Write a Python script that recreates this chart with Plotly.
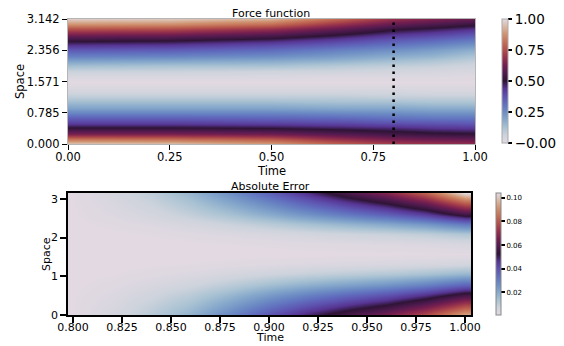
import plotly.graph_objects as go

# ---------------- data ----------------
# Force function: columns at these times, rows at these space points
force_time = [0.0, 0.25, 0.5, 0.65, 0.8, 0.9, 1.0]
force_space = [0.000, 0.131, 0.262, 0.393, 0.524, 0.654, 0.785, 0.916, 1.047, 1.178,
               1.309, 1.440, 1.571, 1.702, 1.833, 1.963, 2.094, 2.225, 2.356, 2.487,
               2.618, 2.749, 2.880, 3.011, 3.142]
force_t000 = [0.97, 0.82, 0.64, 0.51, 0.42, 0.35, 0.27, 0.20, 0.14, 0.09, 0.05, 0.02, 0.00,
              0.03, 0.07, 0.13, 0.20, 0.28, 0.36, 0.44, 0.52, 0.62, 0.75, 0.88, 0.97]
force_t025 = [0.96, 0.81, 0.64, 0.51, 0.42, 0.35, 0.27, 0.20, 0.14, 0.09, 0.05, 0.02, 0.00,
              0.03, 0.07, 0.12, 0.19, 0.27, 0.35, 0.43, 0.51, 0.61, 0.74, 0.87, 0.96]
force_t050 = [0.90, 0.77, 0.62, 0.50, 0.41, 0.34, 0.27, 0.20, 0.14, 0.09, 0.05, 0.02, 0.00,
              0.03, 0.06, 0.12, 0.18, 0.25, 0.32, 0.39, 0.47, 0.56, 0.68, 0.81, 0.92]
force_t065 = [0.80, 0.69, 0.58, 0.48, 0.40, 0.33, 0.26, 0.19, 0.13, 0.09, 0.05, 0.02, 0.00,
              0.02, 0.06, 0.10, 0.16, 0.22, 0.28, 0.35, 0.42, 0.50, 0.60, 0.70, 0.80]
force_t080 = [0.72, 0.63, 0.54, 0.46, 0.38, 0.31, 0.25, 0.19, 0.13, 0.08, 0.05, 0.02, 0.00,
              0.02, 0.05, 0.08, 0.13, 0.18, 0.24, 0.30, 0.36, 0.43, 0.51, 0.60, 0.68]
force_t090 = [0.70, 0.61, 0.52, 0.44, 0.37, 0.30, 0.24, 0.18, 0.12, 0.08, 0.04, 0.02, 0.00,
              0.02, 0.04, 0.07, 0.11, 0.16, 0.21, 0.27, 0.33, 0.40, 0.48, 0.56, 0.64]
force_t100 = [0.68, 0.60, 0.51, 0.43, 0.36, 0.30, 0.24, 0.18, 0.12, 0.08, 0.04, 0.02, 0.00,
              0.01, 0.03, 0.05, 0.08, 0.12, 0.17, 0.23, 0.29, 0.36, 0.44, 0.52, 0.60]
force_columns = [force_t000, force_t025, force_t050, force_t065, force_t080, force_t090, force_t100]

marker_time = 0.8

force_yticks = [0.0, 0.785, 1.571, 2.356, 3.142]
force_yticklabels = ["0.000", "0.785", "1.571", "2.356", "3.142"]
force_xticks = [0.0, 0.25, 0.5, 0.75, 1.0]
force_xticklabels = ["0.00", "0.25", "0.50", "0.75", "1.00"]
force_cbticks = [0.0, 0.25, 0.5, 0.75, 1.0]
force_cblabels = ["\u22120.00", "0.25", "0.50", "0.75", "1.00"]

# Absolute error: columns at these times, rows at these space points
err_time = [0.80, 0.82, 0.84, 0.86, 0.88, 0.90, 0.92, 0.94, 0.96, 0.98, 1.00]
err_space = [0.000, 0.262, 0.524, 0.785, 1.047, 1.309, 1.571, 1.833, 2.094, 2.356, 2.618, 2.880, 3.142]
err_t080 = [0.0010, 0.0009, 0.0008, 0.0006, 0.0004, 0.0003, 0.0002, 0.0003, 0.0004, 0.0006, 0.0008, 0.0009, 0.0010]
err_t082 = [0.0050, 0.0040, 0.0030, 0.0019, 0.0009, 0.0003, 0.0001, 0.0002, 0.0006, 0.0015, 0.0028, 0.0039, 0.0050]
err_t084 = [0.0110, 0.0088, 0.0066, 0.0042, 0.0020, 0.0007, 0.0001, 0.0004, 0.0012, 0.0030, 0.0055, 0.0078, 0.0100]
err_t086 = [0.0180, 0.0144, 0.0108, 0.0068, 0.0032, 0.0011, 0.0002, 0.0007, 0.0020, 0.0051, 0.0094, 0.0133, 0.0170]
err_t088 = [0.0280, 0.0224, 0.0168, 0.0106, 0.0050, 0.0017, 0.0003, 0.0010, 0.0031, 0.0078, 0.0143, 0.0203, 0.0260]
err_t090 = [0.0390, 0.0312, 0.0234, 0.0148, 0.0070, 0.0023, 0.0004, 0.0014, 0.0043, 0.0108, 0.0198, 0.0281, 0.0360]
err_t092 = [0.0490, 0.0392, 0.0294, 0.0186, 0.0088, 0.0029, 0.0005, 0.0019, 0.0056, 0.0141, 0.0259, 0.0367, 0.0470]
err_t094 = [0.0580, 0.0464, 0.0348, 0.0220, 0.0104, 0.0035, 0.0006, 0.0023, 0.0070, 0.0174, 0.0319, 0.0452, 0.0580]
err_t096 = [0.0660, 0.0528, 0.0396, 0.0251, 0.0119, 0.0040, 0.0007, 0.0027, 0.0082, 0.0204, 0.0374, 0.0530, 0.0680]
err_t098 = [0.0780, 0.0624, 0.0468, 0.0296, 0.0140, 0.0047, 0.0008, 0.0033, 0.0098, 0.0246, 0.0451, 0.0640, 0.0820]
err_t100 = [0.0950, 0.0760, 0.0570, 0.0361, 0.0171, 0.0057, 0.0010, 0.0042, 0.0125, 0.0312, 0.0572, 0.0811, 0.1040]
err_columns = [err_t080, err_t082, err_t084, err_t086, err_t088, err_t090,
               err_t092, err_t094, err_t096, err_t098, err_t100]

err_xticks = [0.800, 0.825, 0.850, 0.875, 0.900, 0.925, 0.950, 0.975, 1.000]
err_xticklabels = ["0.800", "0.825", "0.850", "0.875", "0.900", "0.925", "0.950", "0.975", "1.000"]
err_yticks = [0, 1, 2, 3]
err_cbticks = [0.02, 0.04, 0.06, 0.08, 0.10]
err_cblabels = ["0.02", "0.04", "0.06", "0.08", "0.10"]

# ---------------- styling ----------------
twilight = [
    [0.0000, "#e2d9e2"], [0.0625, "#cdd3dc"], [0.1250, "#a9c2d3"], [0.1875, "#86a8cb"],
    [0.2500, "#6d8dc4"], [0.3125, "#6170bf"], [0.3750, "#5e53b0"], [0.4375, "#573593"],
    [0.5000, "#2f1436"], [0.5625, "#4e1a4e"], [0.6250, "#731e50"], [0.6875, "#96314c"],
    [0.7500, "#b24f4b"], [0.8125, "#c46f57"], [0.8750, "#cf916f"], [0.9375, "#d9b8a4"],
    [1.0000, "#e2d9e2"],
]
FONT = "DejaVu Sans"
W, H = 564, 346


def transpose(cols):
    return [list(r) for r in zip(*cols)]


def px(x):
    return x / W


def py(y):
    return (H - y) / H


fig = go.Figure()

fig.add_trace(go.Heatmap(
    x=force_time, y=force_space, z=transpose(force_columns),
    colorscale=twilight, zmin=0, zmax=1, zsmooth="best",
    xaxis="x", yaxis="y",
    colorbar=dict(
        x=px(502), xanchor="left", y=py(19), yanchor="top", xpad=0, ypad=0,
        len=124 / H, lenmode="fraction", thickness=6,
        outlinewidth=1, outlinecolor="#aaaaaa",
        tickvals=force_cbticks, ticktext=force_cblabels,
        ticks="outside", ticklen=4, tickwidth=1.5, tickcolor="black",
        tickfont=dict(family=FONT, size=13.5, color="black"),
    ),
))

fig.add_trace(go.Scatter(
    x=[marker_time, marker_time], y=[force_space[0], force_space[-1]],
    mode="lines", line=dict(color="black", width=2.5, dash="2.5px,4.5px"),
    xaxis="x", yaxis="y", showlegend=False, hoverinfo="skip",
))

fig.add_trace(go.Heatmap(
    x=err_time, y=err_space, z=transpose(err_columns),
    colorscale=twilight, zmin=0.0009, zmax=0.104, zsmooth="best",
    xaxis="x2", yaxis="y2",
    colorbar=dict(
        x=px(496), xanchor="left", y=py(193), yanchor="top", xpad=0, ypad=0,
        len=122 / H, lenmode="fraction", thickness=5,
        outlinewidth=1, outlinecolor="#888888",
        tickvals=err_cbticks, ticktext=err_cblabels,
        ticks="outside", ticklen=4, tickwidth=1.5, tickcolor="black",
        tickfont=dict(family=FONT, size=7, color="black"),
    ),
))

tickfont = dict(family=FONT, size=11.5, color="black")
tickfont2 = dict(family=FONT, size=11, color="black")
labelfont = dict(family=FONT, size=11.5, color="black")
labelfont2 = dict(family=FONT, size=11, color="black")
titlefont = dict(family=FONT, size=11, color="black")


def label(text, x, y, font, angle=0, yanchor="middle"):
    return dict(text=text, x=px(x), y=py(y), xref="paper", yref="paper",
                xanchor="center", yanchor=yanchor, textangle=angle,
                showarrow=False, font=font)


fig.update_layout(
    width=W, height=H, margin=dict(l=0, r=0, t=0, b=0, pad=0, autoexpand=False),
    paper_bgcolor="white", plot_bgcolor="white", showlegend=False,
    xaxis=dict(
        domain=[px(68), px(475)], anchor="y", range=[0, 1], automargin=False,
        tickvals=force_xticks, ticktext=force_xticklabels, ticklabelstandoff=-3,
        ticks="outside", ticklen=5, tickwidth=1.2, tickcolor="black",
        showline=True, linecolor="#b5b5b5", linewidth=1.2, mirror=True,
        showgrid=False, zeroline=False, tickfont=tickfont,
    ),
    yaxis=dict(
        domain=[py(144), py(19)], anchor="x", range=[0, 3.1425], automargin=False,
        tickvals=force_yticks, ticktext=force_yticklabels,
        ticks="outside", ticklen=5, tickwidth=1.2, tickcolor="black",
        showline=True, linecolor="#b5b5b5", linewidth=1.2, mirror=True,
        showgrid=False, zeroline=False, tickfont=tickfont,
    ),
    xaxis2=dict(
        domain=[px(68), px(471)], anchor="y2", range=[0.7974, 1.003], automargin=False,
        tickvals=err_xticks, ticktext=err_xticklabels, ticklabelstandoff=-5,
        ticks="outside", ticklen=6, tickwidth=2, tickcolor="black",
        showline=True, linecolor="black", linewidth=1.5, mirror=True,
        showgrid=False, zeroline=False, tickfont=tickfont2,
    ),
    yaxis2=dict(
        domain=[py(315), py(193)], anchor="x2", range=[0, 3.15], automargin=False,
        tickvals=err_yticks, ticktext=[str(v) for v in err_yticks],
        ticks="outside", ticklen=6, tickwidth=2, tickcolor="black",
        showline=True, linecolor="black", linewidth=1.5, mirror=True,
        showgrid=False, zeroline=False, tickfont=tickfont2,
    ),
    annotations=[
        label("Force function", 271, 13, titlefont),
        label("Absolute Error", 270, 187, titlefont),
        label("Time", 271, 171, labelfont),
        label("Space", 20, 82, labelfont, angle=-90),
        label("Time", 270, 346, labelfont2, yanchor="bottom"),
        label("Space", 46, 254, labelfont2, angle=-90),
    ],
)

fig.write_html("out.html", config={"displayModeBar": False},
               post_script="document.body.style.margin='0px';")
